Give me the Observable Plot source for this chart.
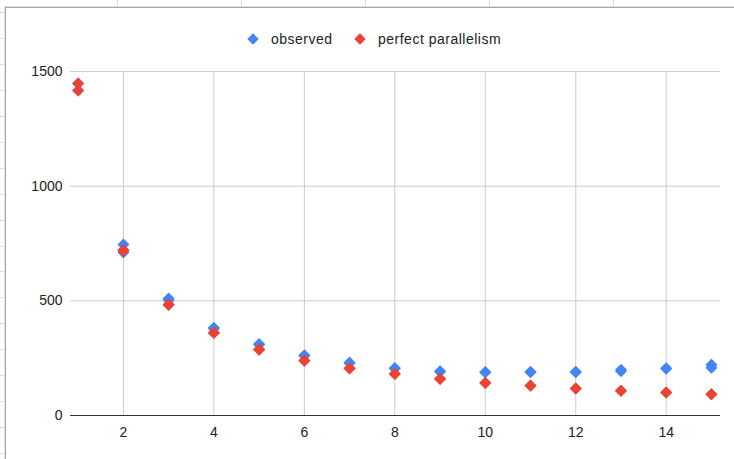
<!DOCTYPE html>
<html>
<head>
<meta charset="utf-8">
<script src="https://cdn.jsdelivr.net/npm/d3@7"></script>
<script src="https://cdn.jsdelivr.net/npm/@observablehq/plot@0.6"></script>
<style>
  body { margin: 0; background: #fff; font-family: Arial, "Liberation Sans", sans-serif; }
  #wrap { position: relative; width: 734px; height: 459px; overflow: hidden; background: #fff; }
  #sheetTop { position: absolute; left: 0; top: 0; width: 734px; height: 7px;
    background: repeating-linear-gradient(to right, transparent 0 116px, #dcdcdc 116px 117px, transparent 117px 124px);
    background-position: 1px 0; }
  #sheetLeft { position: absolute; left: 0; top: 0; width: 5px; height: 459px;
    background: repeating-linear-gradient(to bottom, transparent 0 12.4px, #dcdcdc 12.4px 13.4px, transparent 13.4px 25.9px); }
  #frame { position: absolute; left: 5px; top: 7px; width: 740px; height: 470px; background: #fff;
    border-left: 1px solid #a6a6a6; border-top: 1px solid #a6a6a6; box-shadow: -1px -1px 0 #e2e2e2; }
  #chart { position: absolute; left: 0; top: 0; }
  .leg { position: absolute; top: 31px; font-size: 14px; color: #222; letter-spacing: 0.5px; line-height: 16px; white-space: nowrap; }
  .sw { position: absolute; top: 35px; width: 8px; height: 8px; transform: rotate(45deg); }
</style>
</head>
<body>
<div id="wrap">
  <div id="sheetTop"></div>
  <div id="sheetLeft"></div>
  <div id="frame"></div>
  <div id="chart"></div>
  <div class="sw" style="left:249px;background:#4285F4"></div>
  <div class="leg" style="left:271px">observed</div>
  <div class="sw" style="left:356px;background:#EA4335"></div>
  <div class="leg" style="left:378px">perfect parallelism</div>
</div>
<script>
// number of nodes (x)
const nodes = [1, 2, 3, 4, 5, 6, 7, 8, 9, 10, 11, 12, 13, 14, 15];
// observed times, two runs
const observedA = [1448, 746, 510, 383, 312, 263, 231, 207, 193, 190, 191, 191, 200, 206, 221];
const observedB = [1417, 711, 503, 378, 308, 260, 228, 204, 191, 188, 189, 189, 193, 204, 208];
// perfect parallelism, two runs
const perfectA = [1448, 722, 484, 361, 288, 240, 206, 182, 160, 143, 131, 118, 108, 100, 93];
const perfectB = [1417, 718, 482, 360, 287, 239, 205, 181, 159, 142, 130, 118, 108, 100, 93];
const seriesNames = ["observed", "perfect parallelism"];
const seriesColors = ["#4285F4", "#EA4335"];
const xTicks = [2, 4, 6, 8, 10, 12, 14];
const yTicks = [0, 500, 1000, 1500];

const points = [];
nodes.forEach((n, i) => points.push({n, v: observedA[i], s: seriesNames[0]}));
nodes.forEach((n, i) => points.push({n, v: observedB[i], s: seriesNames[0]}));
nodes.forEach((n, i) => points.push({n, v: perfectA[i], s: seriesNames[1]}));
nodes.forEach((n, i) => points.push({n, v: perfectB[i], s: seriesNames[1]}));

const chart = Plot.plot({
  width: 734,
  height: 459,
  marginLeft: 70,
  marginRight: 14,
  marginTop: 71,
  marginBottom: 44,
  style: {fontSize: "14px", fontFamily: "Arial, 'Liberation Sans', sans-serif", color: "#222", background: "transparent"},
  x: {domain: [0.83, 15.2]},
  y: {domain: [0, 1500]},
  color: {domain: seriesNames, range: seriesColors},
  marks: [
    Plot.gridX(xTicks, {stroke: "#cccccc", strokeOpacity: 1}),
    Plot.gridY(yTicks.filter(d => d > 0), {stroke: "#cccccc", strokeOpacity: 1}),
    Plot.ruleY([0], {stroke: "#333333", strokeWidth: 1.2}),
    Plot.axisX(xTicks, {tickSize: 0, tickPadding: 12, label: null, fill: "#222", tickFormat: d3.format("d")}),
    Plot.axisY(yTicks, {tickSize: 0, tickPadding: 8, label: null, fill: "#222", tickFormat: d3.format("d")}),
    Plot.dot(points, {x: "n", y: "v", fill: "s", stroke: "none", symbol: "diamond2", r: 5.4})
  ]
});
document.getElementById("chart").appendChild(chart);
</script>
</body>
</html>
